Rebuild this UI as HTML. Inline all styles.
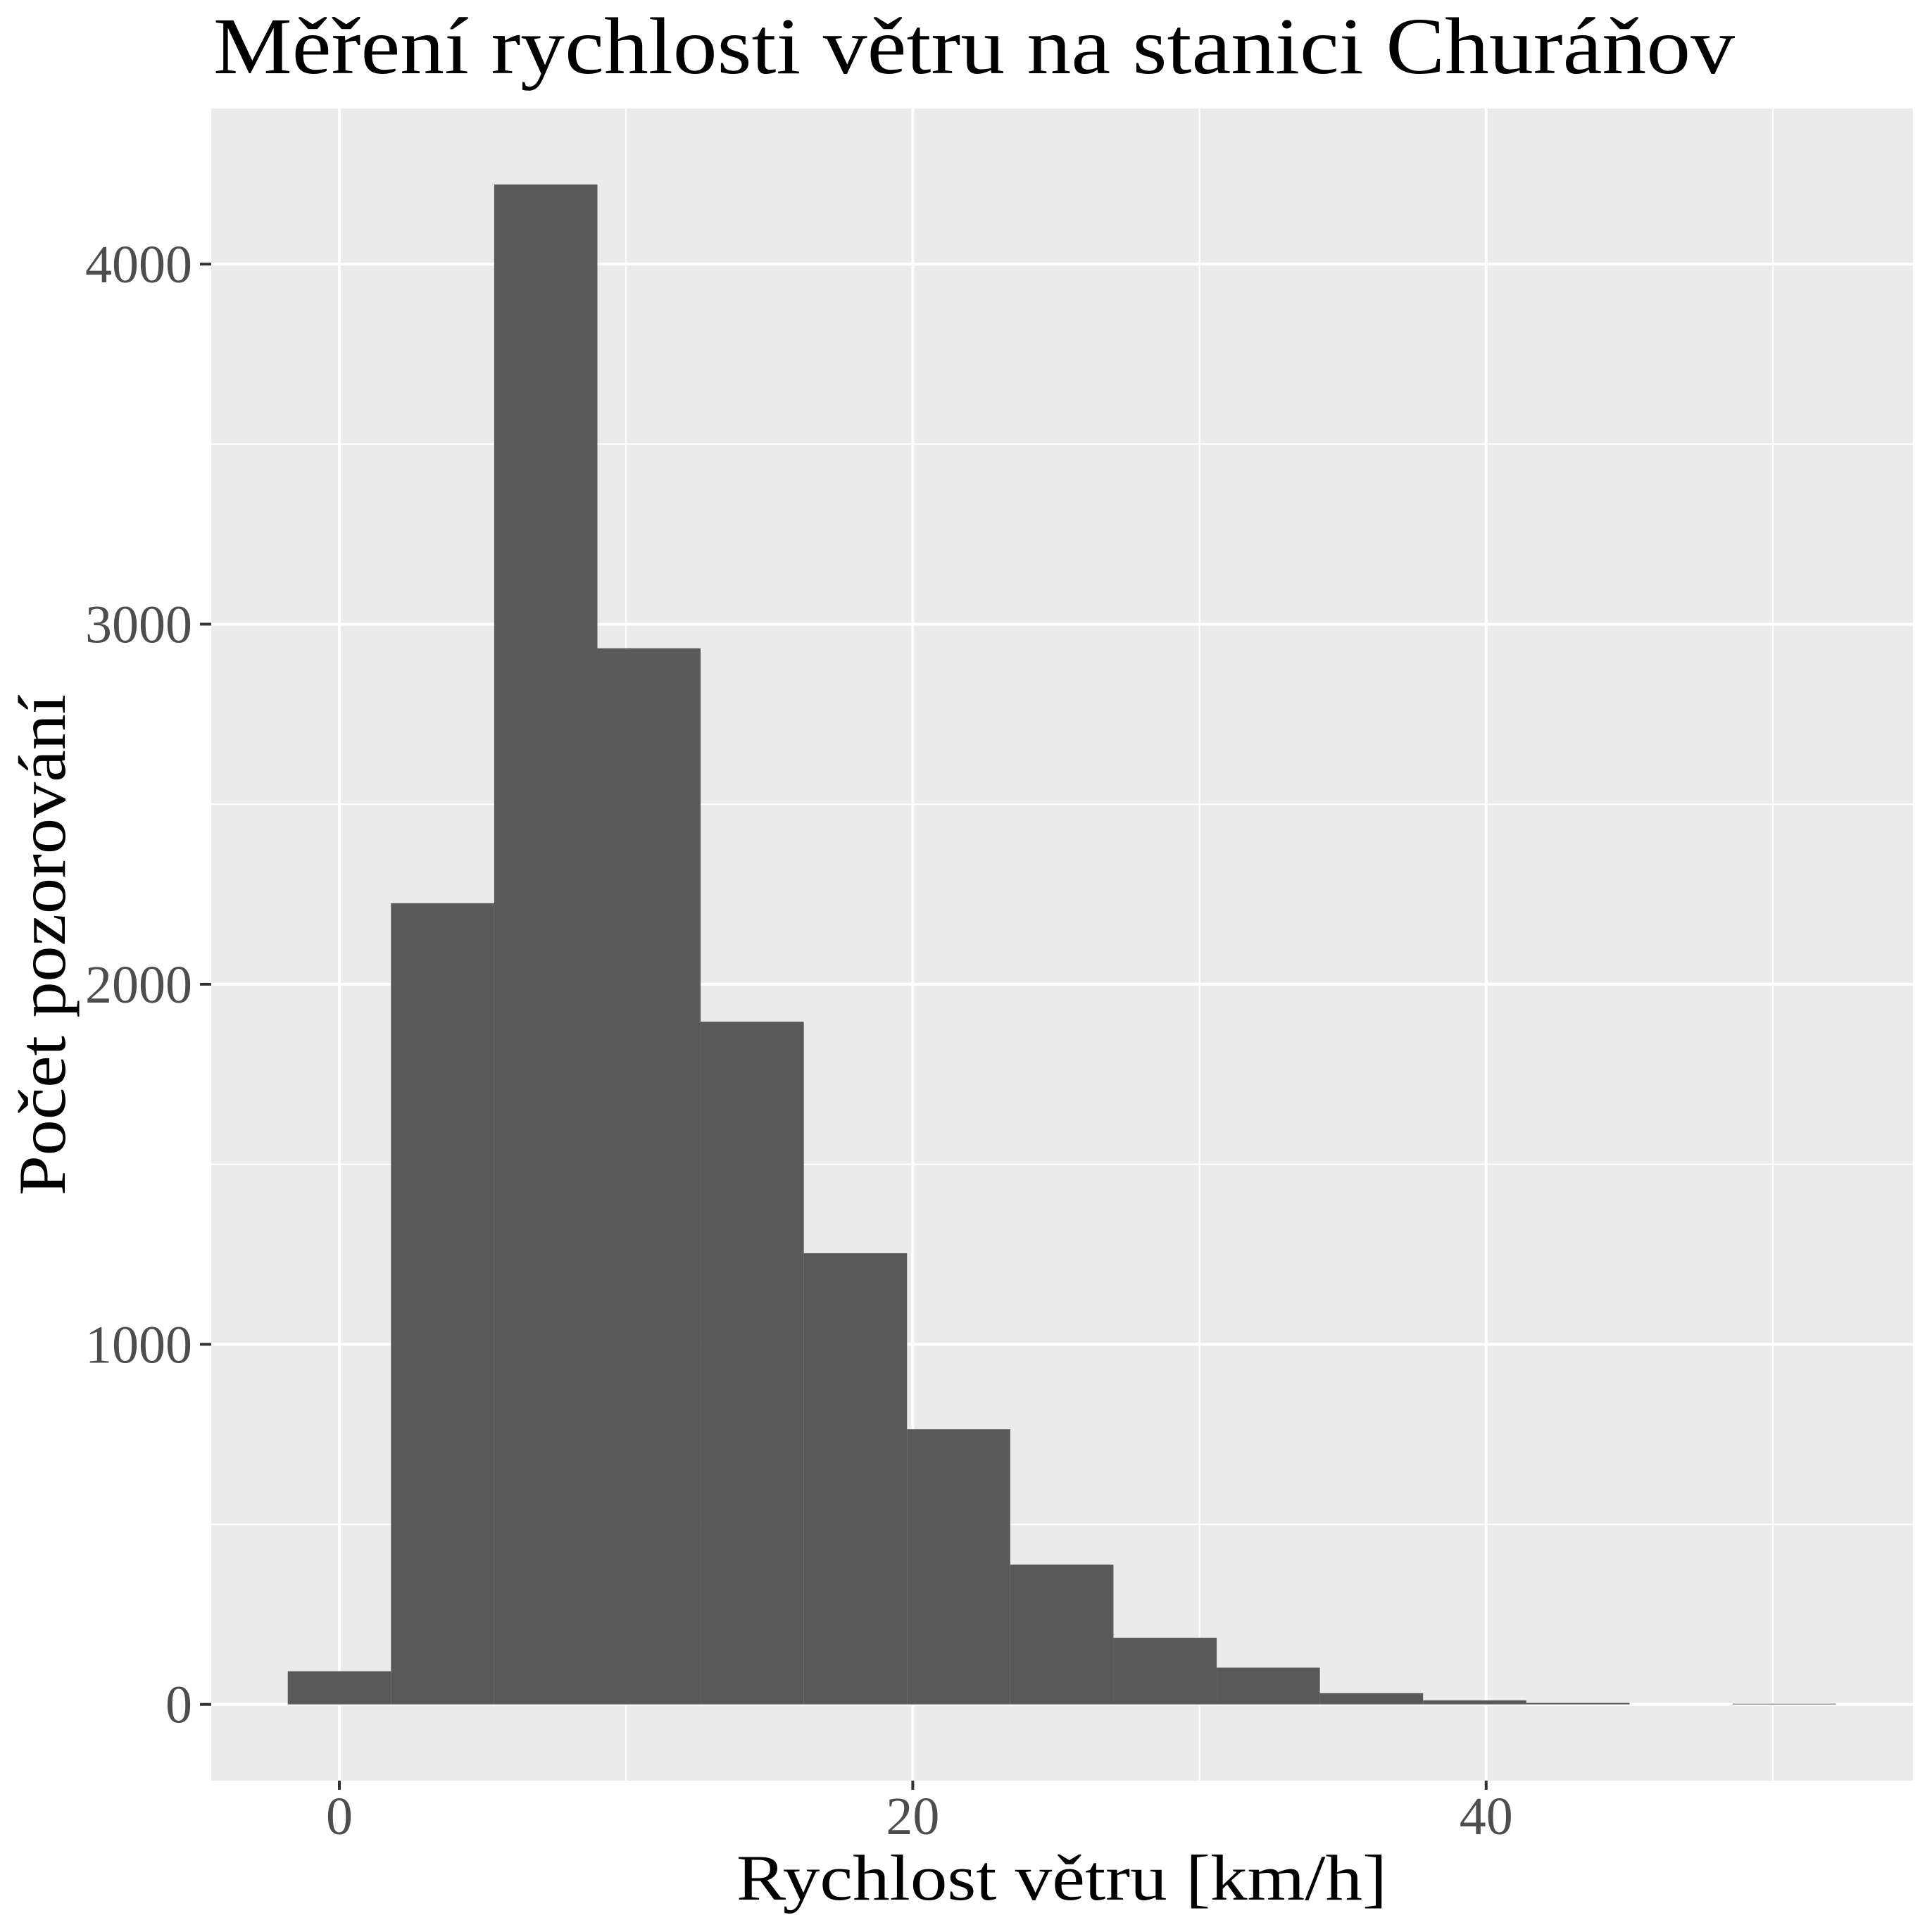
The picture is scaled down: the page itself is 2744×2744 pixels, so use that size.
<!DOCTYPE html>
<html><head><meta charset="utf-8"><style>html,body{margin:0;padding:0;background:#fff}svg{display:block}</style></head>
<body>
<svg id="chart" width="2744" height="2744" viewBox="0 0 2744 2744" xmlns="http://www.w3.org/2000/svg" font-family="'Liberation Serif', serif">
<rect x="0" y="0" width="2744" height="2744" fill="#fff"/>
<text x="303" y="104" font-size="114" fill="#000" textLength="2161" lengthAdjust="spacingAndGlyphs">Měření rychlosti větru na stanici Churáňov</text>
<rect x="300" y="154" width="2417" height="2375" fill="#ebebeb"/>
<g id="grid"></g>
<g id="bars"></g>
<g id="axes"></g>
<text x="1508" y="2698" font-size="92" text-anchor="middle" fill="#000" textLength="924" lengthAdjust="spacingAndGlyphs">Rychlost větru [km/h]</text>
<text transform="translate(92,1342) rotate(-90)" font-size="95" text-anchor="middle" fill="#000" textLength="712" lengthAdjust="spacingAndGlyphs">Počet pozorování</text>
</svg>
<script>
const binStarts = [-1.8, 1.8, 5.4, 9.0, 12.6, 16.2, 19.8, 23.4, 27.0, 30.6, 34.2, 37.8, 41.4, 45.0, 48.6];
const counts = [92, 2225, 4221, 2933, 1896, 1253, 764, 388, 185, 102, 31, 11, 4, 0, 2];
const binWidth = 3.6;
const xMajorTicks = [0, 20, 40];
const xMinorTicks = [10, 30, 50];
const yMajorTicks = [0, 1000, 2000, 3000, 4000];
const yMinorTicks = [500, 1500, 2500, 3500];
const xTickLabels = ["0", "20", "40"];
const yTickLabels = ["0", "1000", "2000", "3000", "4000"];

const NS = "http://www.w3.org/2000/svg";
const P = {l:300, r:2717, t:154, b:2529};
function xs(v){ return 482 + v * 40.72; }
function ys(v){ return 2420.7 - v * 0.5114; }
function mk(tag, attrs, parent){ const e = document.createElementNS(NS, tag); for (const k in attrs) e.setAttribute(k, attrs[k]); parent.appendChild(e); return e; }
const grid = document.getElementById('grid'), bars = document.getElementById('bars'), axes = document.getElementById('axes');

yMinorTicks.forEach(v => {
  const l = mk('line', {x1:P.l, x2:P.r, y1:ys(v), y2:ys(v), stroke:'#fff', 'stroke-width':2}, grid);
  
  
});
xMinorTicks.forEach(v => {
  const l = mk('line', {x1:xs(v), x2:xs(v), y1:P.t, y2:P.b, stroke:'#fff', 'stroke-width':2}, grid);
  
  
});
yMajorTicks.forEach((v, i) => {
  const l = mk('line', {x1:P.l, x2:P.r, y1:ys(v), y2:ys(v), stroke:'#fff', 'stroke-width':4}, grid);
  
  
  const t = mk('line', {x1:284, x2:P.l, y1:ys(v), y2:ys(v), stroke:'#333', 'stroke-width':4}, axes);
  
  
  const lab = mk('text', {x:273, y:ys(v)+26, 'font-size':76, 'text-anchor':'end', fill:'#4d4d4d'}, axes);
  
  
  lab.textContent = yTickLabels[i];
});
xMajorTicks.forEach((v, i) => {
  const l = mk('line', {x1:xs(v), x2:xs(v), y1:P.t, y2:P.b, stroke:'#fff', 'stroke-width':4}, grid);
  
  
  const t = mk('line', {x1:xs(v), x2:xs(v), y1:P.b, y2:P.b+13, stroke:'#333', 'stroke-width':4}, axes);
  
  
  const lab = mk('text', {x:xs(v), y:2605, 'font-size':76, 'text-anchor':'middle', fill:'#4d4d4d'}, axes);
  
  
  lab.textContent = xTickLabels[i];
});
binStarts.forEach((s, i) => {
  const x0 = xs(s), x1 = xs(s + binWidth), y0 = ys(counts[i]), y1 = ys(0);
  const r = mk('rect', {x:x0, y:y0, width:x1-x0, height:Math.max(0, y1-y0), fill:'#595959'}, bars);
  
  
});
</script>
</body></html>
